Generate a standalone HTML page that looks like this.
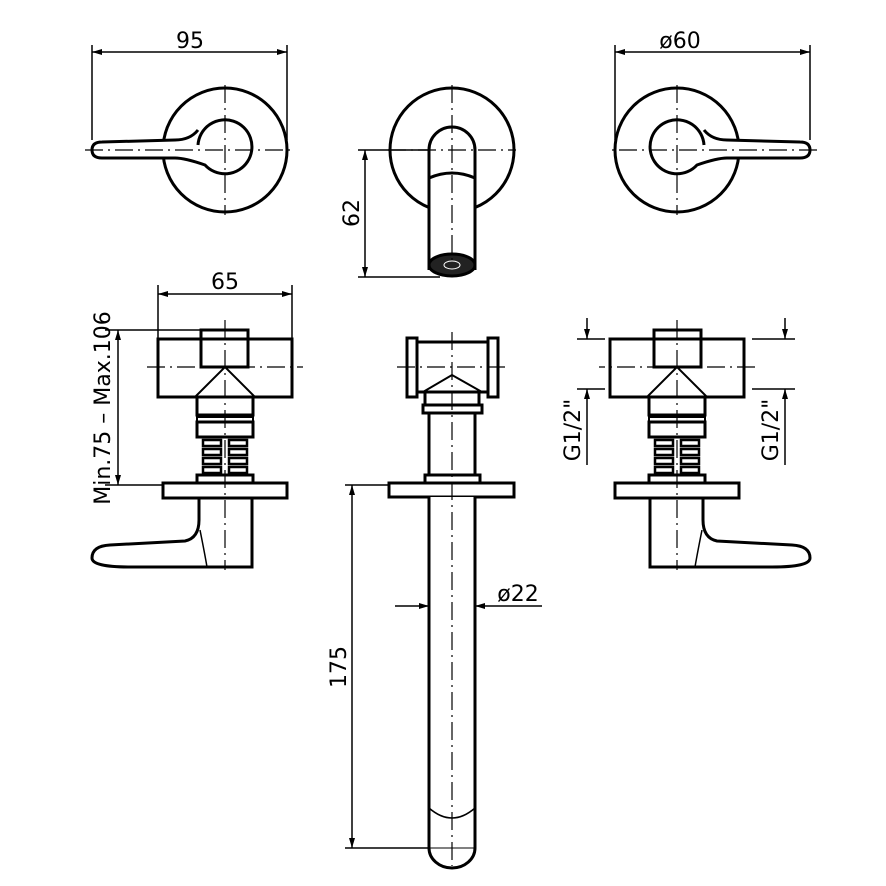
<!DOCTYPE html>
<html><head><meta charset="utf-8"><style>
html,body{margin:0;padding:0;background:#fff;}
svg{display:block}
text{font-family:"DejaVu Sans","Liberation Sans",sans-serif;font-size:22px;fill:#000}
</style></head><body>
<svg width="886" height="886" viewBox="0 0 886 886" xmlns="http://www.w3.org/2000/svg">
<defs>
<marker id="a" viewBox="0 0 10 6" refX="10" refY="3" markerWidth="10" markerHeight="6" orient="auto-start-reverse" markerUnits="userSpaceOnUse"><path d="M0,0 L10,3 L0,6 z" fill="#000"/></marker>
<g id="valve" fill="none" stroke="#000">
  <g stroke-width="3">
    <rect x="158" y="339" width="134" height="58" fill="#fff"/>
    <path d="M201,339 v-9 h47 v9"/>
    <rect x="201" y="339" width="47" height="28"/>
    <path d="M195,397 L225,367 L255,397" stroke-width="2"/>
    <path d="M197,397 v18 h56 v-18"/>
    <rect x="197" y="417" width="56" height="5" stroke-width="2"/>
    <rect x="197" y="422" width="56" height="15"/>
    <g stroke-width="2.5">
      <rect x="203" y="440" width="18" height="6"/><rect x="203" y="449" width="18" height="6"/><rect x="203" y="458" width="18" height="6"/><rect x="203" y="467" width="18" height="6"/>
      <rect x="229" y="440" width="18" height="6"/><rect x="229" y="449" width="18" height="6"/><rect x="229" y="458" width="18" height="6"/><rect x="229" y="467" width="18" height="6"/>
    </g>
    <rect x="197" y="475" width="56" height="8"/>
    <rect x="163" y="483" width="124" height="15"/>
    <path d="M252,498 V567 H130 Q92,567 92,558 Q92,546 110,545 L185,541 Q199,538 199,520 V498"/>
    <path d="M200,530 Q205,555 207,567" stroke-width="1.5"/>
  </g>
  <g stroke-width="1.2" stroke-dasharray="18,5,2,5">
    <path d="M225,320 V570"/>
    <path d="M147,367 H303"/>
  </g>
</g>
</defs>

<g fill="none" stroke="#000" stroke-width="1.5">
<g stroke-width="3">
<circle cx="225" cy="150" r="62"/>
<path d="M198,145 A27,27 0 1 1 205,165 Q185,158 175,158 L102,158 Q92,158 92,150 Q92,142 102,142 L175,140 Q190,140 198,130" fill="#fff"/>
</g>
<path d="M225,85 V215 M85,150 H295" stroke-width="1.2" stroke-dasharray="18,5,2,5"/>
<path d="M92,45 V140 M287,45 V140"/>
<path d="M92,52 H287" marker-start="url(#a)" marker-end="url(#a)"/>

<g transform="translate(902,0) scale(-1,1)">
<g stroke-width="3">
<circle cx="225" cy="150" r="62"/>
<path d="M198,145 A27,27 0 1 1 205,165 Q185,158 175,158 L102,158 Q92,158 92,150 Q92,142 102,142 L175,140 Q190,140 198,130" fill="#fff"/>
</g>
<path d="M225,85 V215 M85,150 H295" stroke-width="1.2" stroke-dasharray="18,5,2,5"/>
<path d="M92,45 V140 M287,45 V140"/>
<path d="M92,52 H287" marker-start="url(#a)" marker-end="url(#a)"/>
</g>

<g stroke-width="3">
<circle cx="452" cy="150" r="62"/>
<path d="M429,270 V150 A23,23 0 0 1 475,150 V270" fill="#fff"/>
<path d="M429,178 Q452,168 475,178"/>
<ellipse cx="452" cy="265" rx="23" ry="11" fill="#222"/>
</g>
<ellipse cx="452" cy="265" rx="8" ry="4" stroke="#fff" stroke-width="1"/>
<path d="M452,85 V260 M388,150 H516" stroke-width="1.2" stroke-dasharray="18,5,2,5"/>
<path d="M358,150 H430 M358,277 H440"/>
<path d="M365,150 V277" marker-start="url(#a)" marker-end="url(#a)"/>

<use href="#valve"/>
<path d="M158,285 V338 M292,285 V338"/>
<path d="M158,294 H292" marker-start="url(#a)" marker-end="url(#a)"/>
<path d="M105,330 H201 M105,485 H163"/>
<path d="M118,330 V485" marker-start="url(#a)" marker-end="url(#a)"/>

<g transform="translate(902,0) scale(-1,1)"><use href="#valve"/></g>
<path d="M577,339 H605 M577,389 H605 M752,339 H795 M752,389 H795"/>
<path d="M587,318 V339" marker-end="url(#a)"/>
<path d="M587,465 V389" marker-end="url(#a)"/>
<path d="M785,318 V339" marker-end="url(#a)"/>
<path d="M785,465 V389" marker-end="url(#a)"/>

<g stroke-width="3">
<rect x="417" y="342" width="71" height="50"/>
<rect x="407" y="338" width="10" height="59"/>
<rect x="488" y="338" width="10" height="59"/>
<path d="M423,392 L452,375 L482,392" stroke-width="2"/>
<path d="M425,392 v13 M479,392 v13"/>
<rect x="423" y="405" width="59" height="8"/>
<rect x="429" y="413" width="46" height="62"/>
<rect x="425" y="475" width="55" height="8"/>
<rect x="389" y="483" width="125" height="14"/>
<path d="M429,497 V848 A23,20 0 0 0 475,848 V497" fill="#fff"/>
<path d="M429,808 Q452,828 475,808" stroke-width="1.5"/>
<path d="M429,848 H475" stroke-width="1"/>
</g>
<path d="M452,332 V866 M397,367 H507" stroke-width="1.2" stroke-dasharray="18,5,2,5"/>
<path d="M345,485 H389 M345,848 H429"/>
<path d="M352,485 V848" marker-start="url(#a)" marker-end="url(#a)"/>
<path d="M395,606 H429" marker-end="url(#a)"/>
<path d="M542,606 H475" marker-end="url(#a)"/>
</g>

<text x="190" y="48" text-anchor="middle">95</text>
<text x="680" y="48" text-anchor="middle">ø60</text>
<text x="225" y="289" text-anchor="middle">65</text>
<text transform="translate(359,213) rotate(-90)" text-anchor="middle">62</text>
<text transform="translate(110,408) rotate(-90)" text-anchor="middle">Min.75  –  Max.106</text>
<text transform="translate(580,430) rotate(-90)" text-anchor="middle">G1/2"</text>
<text transform="translate(778,430) rotate(-90)" text-anchor="middle">G1/2"</text>
<text transform="translate(346,667) rotate(-90)" text-anchor="middle">175</text>
<text x="518" y="601" text-anchor="middle">ø22</text>
</svg>
</body></html>
